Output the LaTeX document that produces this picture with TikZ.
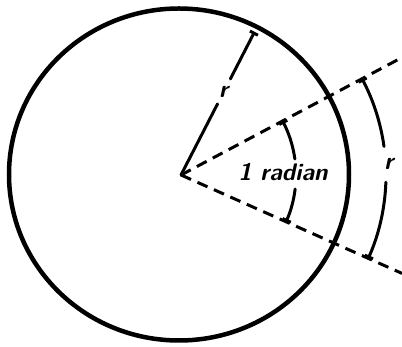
\documentclass[tikz,border=0pt]{standalone}
\usetikzlibrary{calc,arrows.meta}
\begin{document}
\begin{tikzpicture}[x=1pt,y=1pt,
  rim/.style={line width=4.5pt},
  ray/.style={line width=3pt, dash pattern=on 11pt off 7pt},
  dim/.style={line width=3pt, line cap=round},
  endbar/.style={line width=3pt, line cap=round, -{Bar[width=9pt,length=3pt]}},
  lbl/.style={font=\fontsize{24}{28}\selectfont\sffamily\bfseries\slshape, inner sep=0pt}]
\useasboundingbox (0,0) rectangle (402,347);
\coordinate (O) at (181,172);
% circle
\draw[rim] (179,172.5) ellipse [x radius=170, y radius=166];
% rays
\coordinate (U) at ($(O)+(28:250)$);
\coordinate (L) at ($(O)+(-24:242)$);
\draw[ray] (O) -- (U);
\draw[ray] (O) -- (L);
% radius with label
\coordinate (R1) at ($(O)+(62.8:80)$);
\node[lbl] (rr) at ($(O)+(62.8:93)$) {r};
\coordinate (R2) at ($(O)+(62.8:108)$);
\coordinate (R3) at ($(O)+(62.8:161)$);
\draw[dim] (O) -- (R1);
\draw[endbar] (R2) -- (R3);
% inner arc: 1 radian
\coordinate (I1) at ($(O)+(8:115)$);
\coordinate (I2) at ($(O)+(-7:115)$);
\draw[endbar] (I1) arc[start angle=8, end angle=28, radius=115];
\node[lbl] (rad) at (283,175) {1 radian};
\draw[endbar] (I2) arc[start angle=-7, end angle=-24, radius=115];
% outer arc: r
\coordinate (A1) at ($(O)+(8:205)$);
\coordinate (A2) at ($(O)+(-2:205)$);
\draw[endbar] (A1) arc[start angle=8, end angle=28, radius=205];
\node[lbl] (ro) at ($(O)+(3:208)$) {r};
\draw[endbar] (A2) arc[start angle=-2, end angle=-24, radius=205];
\end{tikzpicture}
\end{document}
